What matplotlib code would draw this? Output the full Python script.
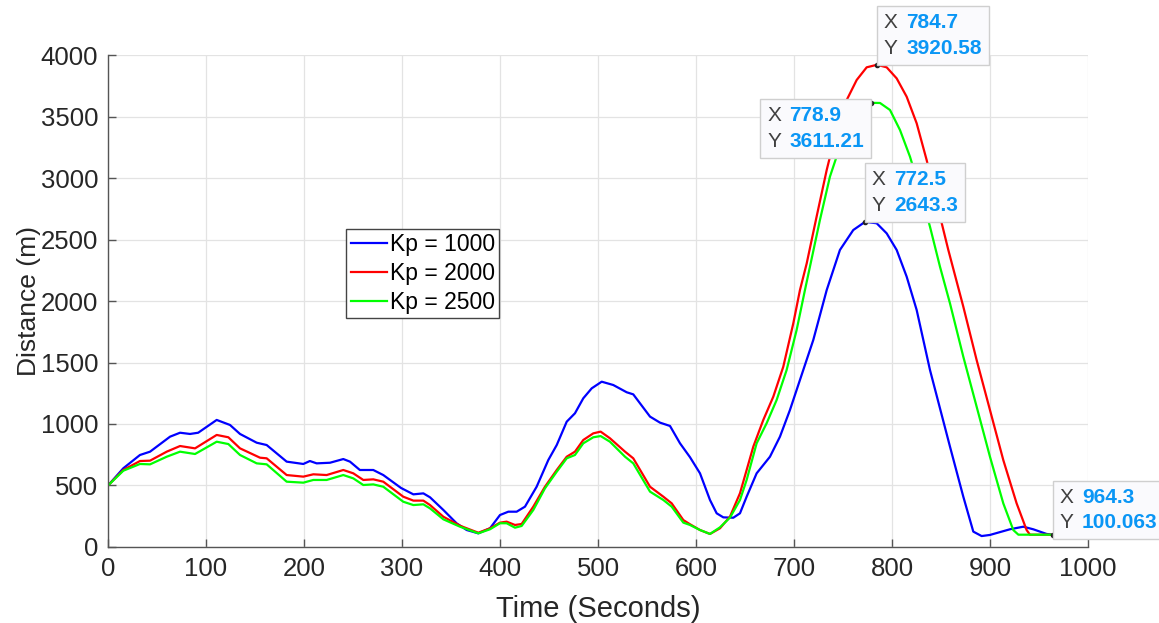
import matplotlib
matplotlib.use('Agg')
from matplotlib import pyplot as plt
from matplotlib.offsetbox import TextArea, HPacker, VPacker, AnnotationBbox

plt.rcParams['font.family'] = ['Liberation Sans', 'DejaVu Sans']

# Kp = 1000
t1 = [0, 15.6, 32.6, 42.9, 63.3, 73.5, 83.7, 92, 110.9, 124.5, 134.7, 151.7, 161.9,
      182.3, 199.3, 206, 212.9, 226.5, 240.1, 246.9, 257, 270.7, 280.9, 299, 311.6,
      321.8, 328.6, 342.2, 355.8, 366, 377.9, 389.8, 400, 408.5, 417, 425.5, 437.4,
      449.3, 457.9, 468.1, 476.5, 485, 493.6, 503.8, 515.6, 529.3, 536, 553.1, 563.3,
      573.5, 583.7, 593.9, 604.1, 614.3, 621.1, 627.9, 638.1, 644.9, 651.7, 661.9,
      675.5, 685.7, 695.9, 706.1, 719.7, 733.4, 746.9, 760.5, 772.5, 784.4, 794.6,
      804.8, 815, 825.2, 838.8, 859.2, 872.8, 883, 891.5, 900, 920.4, 934, 944.2,
      957.8, 964.3, 1000]
d1 = [500, 640, 748, 775, 897, 929, 919, 929, 1033, 992, 919, 848, 829,
      694, 675, 699, 680, 685, 715, 694, 626, 626, 585, 480, 428,
      436, 404, 301, 192, 138, 111, 152, 260, 287, 287, 328, 490,
      707, 829, 1019, 1087, 1209, 1290, 1344, 1317, 1258, 1241, 1060, 1011,
      984, 843, 730, 599, 382, 274, 241, 238, 274, 409, 599,
      734, 897, 1114, 1358, 1683, 2089, 2415, 2577, 2643.3, 2632, 2550,
      2415, 2198, 1927, 1439, 816, 409, 125, 89, 98, 144, 165, 144,
      106, 100.063, 100]

# Kp = 2000
t2 = [0, 15.6, 32.6, 42.9, 59.9, 73.5, 88.8, 110.9, 122.8, 134.7, 155.1, 161.9,
      182.3, 199.3, 209.5, 223.1, 240.1, 250.3, 260.5, 270.7, 280.9, 301.3, 311.6,
      321.8, 328.6, 342.2, 359.2, 377.9, 389.8, 400, 406.8, 415.3, 422.1, 434, 445.9,
      457.9, 468.1, 476.5, 485, 495.2, 502.7, 512.2, 527.6, 536, 553.1, 566.7, 575.2,
      587.1, 593.9, 604.1, 614.3, 624.5, 634.7, 644.9, 651.7, 658.5, 668.7, 678.9,
      689.1, 699.3, 706.1, 713, 723.1, 733.4, 743.5, 753.8, 764, 774.2, 784.7, 794.6,
      804.8, 815, 825.2, 835.4, 845.6, 857.5, 872.8, 886.4, 900, 913.6, 927.2, 937.4,
      940.8, 1000]
d2 = [500, 626, 699, 702, 775, 821, 802, 911, 892, 802, 726, 721,
      585, 572, 591, 585, 626, 599, 545, 550, 531, 409, 377,
      377, 341, 246, 173, 116, 152, 198, 206, 179, 187, 328, 490,
      626, 734, 775, 870, 924, 938, 884, 775, 721, 490, 409, 355,
      219, 185, 138, 106, 152, 247, 437, 626, 816, 1033, 1222,
      1466, 1818, 2089, 2306, 2686, 3065, 3390, 3634, 3797, 3900, 3920.58, 3900,
      3810, 3661, 3445, 3146, 2800, 2415, 1954, 1520, 1114, 707, 355, 138,
      100, 100]

# Kp = 2500
t3 = [0, 15.6, 32.6, 42.9, 59.9, 73.5, 88.8, 110.9, 122.8, 134.7, 151.7, 161.9,
      182.3, 199.3, 209.5, 223.1, 240.1, 250.3, 260.5, 270.7, 280.9, 301.3, 311.6,
      321.8, 328.6, 342.2, 359.2, 377.9, 389.8, 400, 406.8, 415.3, 422.1, 434, 445.9,
      457.9, 468.1, 476.5, 485, 495.2, 502.7, 512.2, 527.6, 536, 553.1, 566.7, 575.2,
      587.1, 593.9, 604.1, 614.3, 624.5, 634.7, 644.9, 651.7, 661.9, 672.1, 682.3,
      692.5, 702.7, 711.2, 716.3, 726.5, 736.7, 746.9, 757.1, 767.3, 778.9, 787.8,
      798, 808.2, 818.4, 828.6, 838.8, 849, 859.2, 872.8, 886.4, 900, 913.6, 923.8,
      929, 1000]
d3 = [500, 620, 675, 672, 734, 775, 756, 856, 837, 748, 680, 672,
      531, 523, 545, 545, 585, 558, 504, 509, 490, 368, 341,
      347, 314, 225, 165, 111, 144, 193, 193, 157, 171, 301, 477,
      612, 721, 748, 843, 892, 902, 856, 734, 680, 450, 382, 328,
      198, 179, 138, 106, 160, 239, 382, 545, 843, 1006, 1195,
      1439, 1764, 2089, 2279, 2659, 3011, 3255, 3445, 3567, 3611.21, 3610,
      3553, 3390, 3173, 2902, 2604, 2279, 1981, 1547, 1141, 734, 355, 138,
      100, 100]

labels = ['Kp = 1000', 'Kp = 2000', 'Kp = 2500']
colors = ['#0000FF', '#FF0000', '#00FF00']

# data tips: (x, y, box anchor corner)
tips = [(784.7, 3920.58, (0, 0)),
        (778.9, 3611.21, (1, 0.93)),
        (772.5, 2643.3, (0, 0)),
        (964.3, 100.063, (0, 0.08))]

fig = plt.figure(figsize=(11.59, 6.23), dpi=100)
ax = fig.add_axes([0.0932, 0.122, 0.8455, 0.7897])

for t, d, lab, c in zip([t1, t2, t3], [d1, d2, d3], labels, colors):
    ax.plot(t, d, color=c, linewidth=1.6, label=lab)

ax.set_xlim(0, 1000)
ax.set_ylim(0, 4000)
ax.set_xticks(range(0, 1001, 100))
ax.set_yticks(range(0, 4001, 500))
ax.grid(True, color='#E3E3E3', linewidth=0.9)
ax.set_axisbelow(True)
for s in ['top', 'right']:
    ax.spines[s].set_visible(False)
for s in ['left', 'bottom']:
    ax.spines[s].set_color('#555555')
    ax.spines[s].set_linewidth(1.0)
ax.tick_params(direction='in', length=6, width=1.0, color='#555555',
               labelsize=18.5, labelcolor='#262626', pad=7)

ax.set_xlabel('Time (Seconds)', fontsize=21, color='#262626', labelpad=10)
ax.set_ylabel('Distance (m)', fontsize=19, color='#262626')
ax.yaxis.set_label_coords(-0.068, 0.5)

leg = ax.legend(loc='lower left', bbox_to_anchor=(0.243, 0.465), fontsize=16.5,
                fancybox=False, framealpha=1, edgecolor='#444444',
                handlelength=1.6, handletextpad=0.1, borderpad=0.2,
                labelspacing=0.25, borderaxespad=0)
leg.get_frame().set_linewidth(1.0)

for x, y, corner in tips:
    ax.plot(x, y, 'o', color='#222222', markersize=3, zorder=5)
    rows = []
    for key, val in [('X', f'{x:g}'), ('Y', f'{y:g}')]:
        k = TextArea(key, textprops=dict(color='#404040', fontsize=15))
        v = TextArea(val, textprops=dict(color='#0A96F5', fontsize=15,
                                         fontweight='bold'))
        rows.append(HPacker(children=[k, v], align='baseline', pad=0, sep=6))
    box = VPacker(children=rows, align='left', pad=5, sep=5)
    ab = AnnotationBbox(box, (x, y), box_alignment=corner, frameon=True,
                        pad=0, annotation_clip=False, zorder=6,
                        bboxprops=dict(boxstyle='square,pad=0',
                                       facecolor='#FAFAFD', edgecolor='#CFCFCF',
                                       linewidth=1.0))
    ax.add_artist(ab)

fig.savefig('out.png', dpi=100)
